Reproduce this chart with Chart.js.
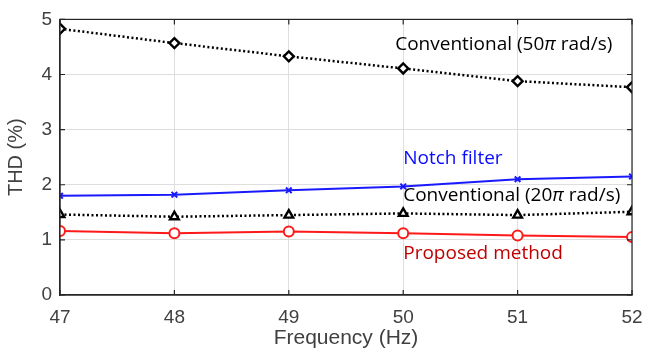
<!DOCTYPE html>
<html>
<head>
<meta charset="utf-8">
<script src="https://cdn.jsdelivr.net/npm/chart.js@4"></script>
<style>
  html, body { margin: 0; padding: 0; background: #fff; }
  #wrap { width: 656px; height: 351px; }
</style>
</head>
<body>
<div id="wrap"><canvas id="thd"></canvas></div>
<script>
// frequency (Hz)
const freqs = [47, 48, 49, 50, 51, 52]
// THD (%)
const conv50 = [4.83, 4.57, 4.33, 4.11, 3.88, 3.77]
const notch = [1.80, 1.82, 1.90, 1.97, 2.10, 2.15]
const conv20 = [1.46, 1.42, 1.45, 1.48, 1.45, 1.51]
const proposed = [1.16, 1.12, 1.15, 1.12, 1.08, 1.05]
const yTicks = [0, 1, 2, 3, 4, 5]

const pts = arr => arr.map((v, i) => ({ x: freqs[i], y: v }))

const tickFont = { family: "'Liberation Sans', Arial, sans-serif", size: 19 }
const noteFont = "'Open Sans', 'Noto Sans', sans-serif"

// MATLAB style box + inner ticks + text labels
const boxPlugin = {
    id: "box",
    afterDraw(chart) {
        const { ctx, chartArea: a, scales } = chart
        ctx.save()
        ctx.strokeStyle = "#262626"
        ctx.lineWidth = 1.2
        ctx.strokeRect(a.left, a.top, a.right - a.left, a.bottom - a.top)
        // inner tick marks
        ctx.beginPath()
        freqs.forEach(f => {
            const x = scales.x.getPixelForValue(f)
            ctx.moveTo(x, a.bottom); ctx.lineTo(x, a.bottom - 5)
            ctx.moveTo(x, a.top); ctx.lineTo(x, a.top + 5)
        })
        yTicks.forEach(t => {
            const y = scales.y.getPixelForValue(t)
            ctx.moveTo(a.left, y); ctx.lineTo(a.left + 5, y)
            ctx.moveTo(a.right, y); ctx.lineTo(a.right - 5, y)
        })
        ctx.stroke()

        const note = (parts, xv, yv, color) => {
            let x = scales.x.getPixelForValue(xv)
            const y = scales.y.getPixelForValue(yv)
            ctx.fillStyle = color
            ctx.textBaseline = "middle"
            ctx.textAlign = "left"
            parts.forEach(([txt, italic]) => {
                ctx.font = (italic ? "italic " : "") + "19px " + noteFont
                ctx.fillText(txt, x, y)
                x += ctx.measureText(txt).width
            })
        }
        note([["Conventional (50", false], ["\u03c0", true], [" rad/s)", false]], 49.93, 4.55, "#000")
        note([["Notch filter", false]], 50.0, 2.47, "#0a0aff")
        note([["Conventional (20", false], ["\u03c0", true], [" rad/s)", false]], 50.0, 1.81, "#000")
        note([["Proposed method", false]], 50.0, 0.75, "#c00000")
        ctx.restore()
    }
}

new Chart(document.getElementById("thd"), {
    type: "line",
    data: {
        datasets: [
            {
                label: "Conventional (50\u03c0 rad/s)",
                data: pts(conv50),
                borderColor: "#000",
                borderWidth: 2.5,
                borderDash: [2, 2.5],
                pointStyle: "rectRot",
                pointRadius: 5,
                pointBorderWidth: 2.4,
                pointBorderColor: "#000",
                pointBackgroundColor: "#fff",
            },
            {
                label: "Notch filter",
                data: pts(notch),
                borderColor: "#1a1aff",
                borderWidth: 2,
                pointStyle: "crossRot",
                pointRadius: 4,
                pointBorderWidth: 2,
                pointBorderColor: "#1a1aff",
            },
            {
                label: "Conventional (20\u03c0 rad/s)",
                data: pts(conv20),
                borderColor: "#000",
                borderWidth: 2.5,
                borderDash: [2, 2.5],
                pointStyle: "triangle",
                pointRadius: 5,
                pointBorderWidth: 2.4,
                pointBorderColor: "#000",
                pointBackgroundColor: "#fff",
            },
            {
                label: "Proposed method",
                data: pts(proposed),
                borderColor: "#ff1a1a",
                borderWidth: 2,
                pointStyle: "circle",
                pointRadius: 5,
                pointBorderWidth: 2,
                pointBorderColor: "#ff1a1a",
                pointBackgroundColor: "#fff",
            },
        ]
    },
    options: {
        responsive: true,
        maintainAspectRatio: false,
        animation: false,
        layout: { padding: { top: 15, right: 24, left: 0, bottom: 0 } },
        plugins: { legend: { display: false }, tooltip: { enabled: false } },
        scales: {
            x: {
                type: "linear",
                min: 47, max: 52,
                afterBuildTicks: s => { s.ticks = freqs.map(v => ({ value: v })) },
                afterFit: s => { s.height = 56 },
                grid: { color: "#dedede", drawTicks: false },
                border: { color: "#262626", width: 1.2 },
                ticks: { color: "#404040", font: tickFont, padding: 11 },
                title: { display: true, text: "Frequency (Hz)", color: "#404040",
                         font: { family: tickFont.family, size: 21 }, padding: { top: 0, bottom: 0 } },
            },
            y: {
                min: 0, max: 5,
                afterBuildTicks: s => { s.ticks = yTicks.map(v => ({ value: v })) },
                afterFit: s => { s.width = 60 },
                grid: { color: "#dedede", drawTicks: false },
                border: { color: "#262626", width: 1.2 },
                ticks: { color: "#404040", font: tickFont, padding: 8 },
                title: { display: true, text: "THD (%)", color: "#404040",
                         font: { family: tickFont.family, size: 20 }, padding: { bottom: 0 } },
            }
        }
    },
    plugins: [boxPlugin]
})
</script>
</body>
</html>
